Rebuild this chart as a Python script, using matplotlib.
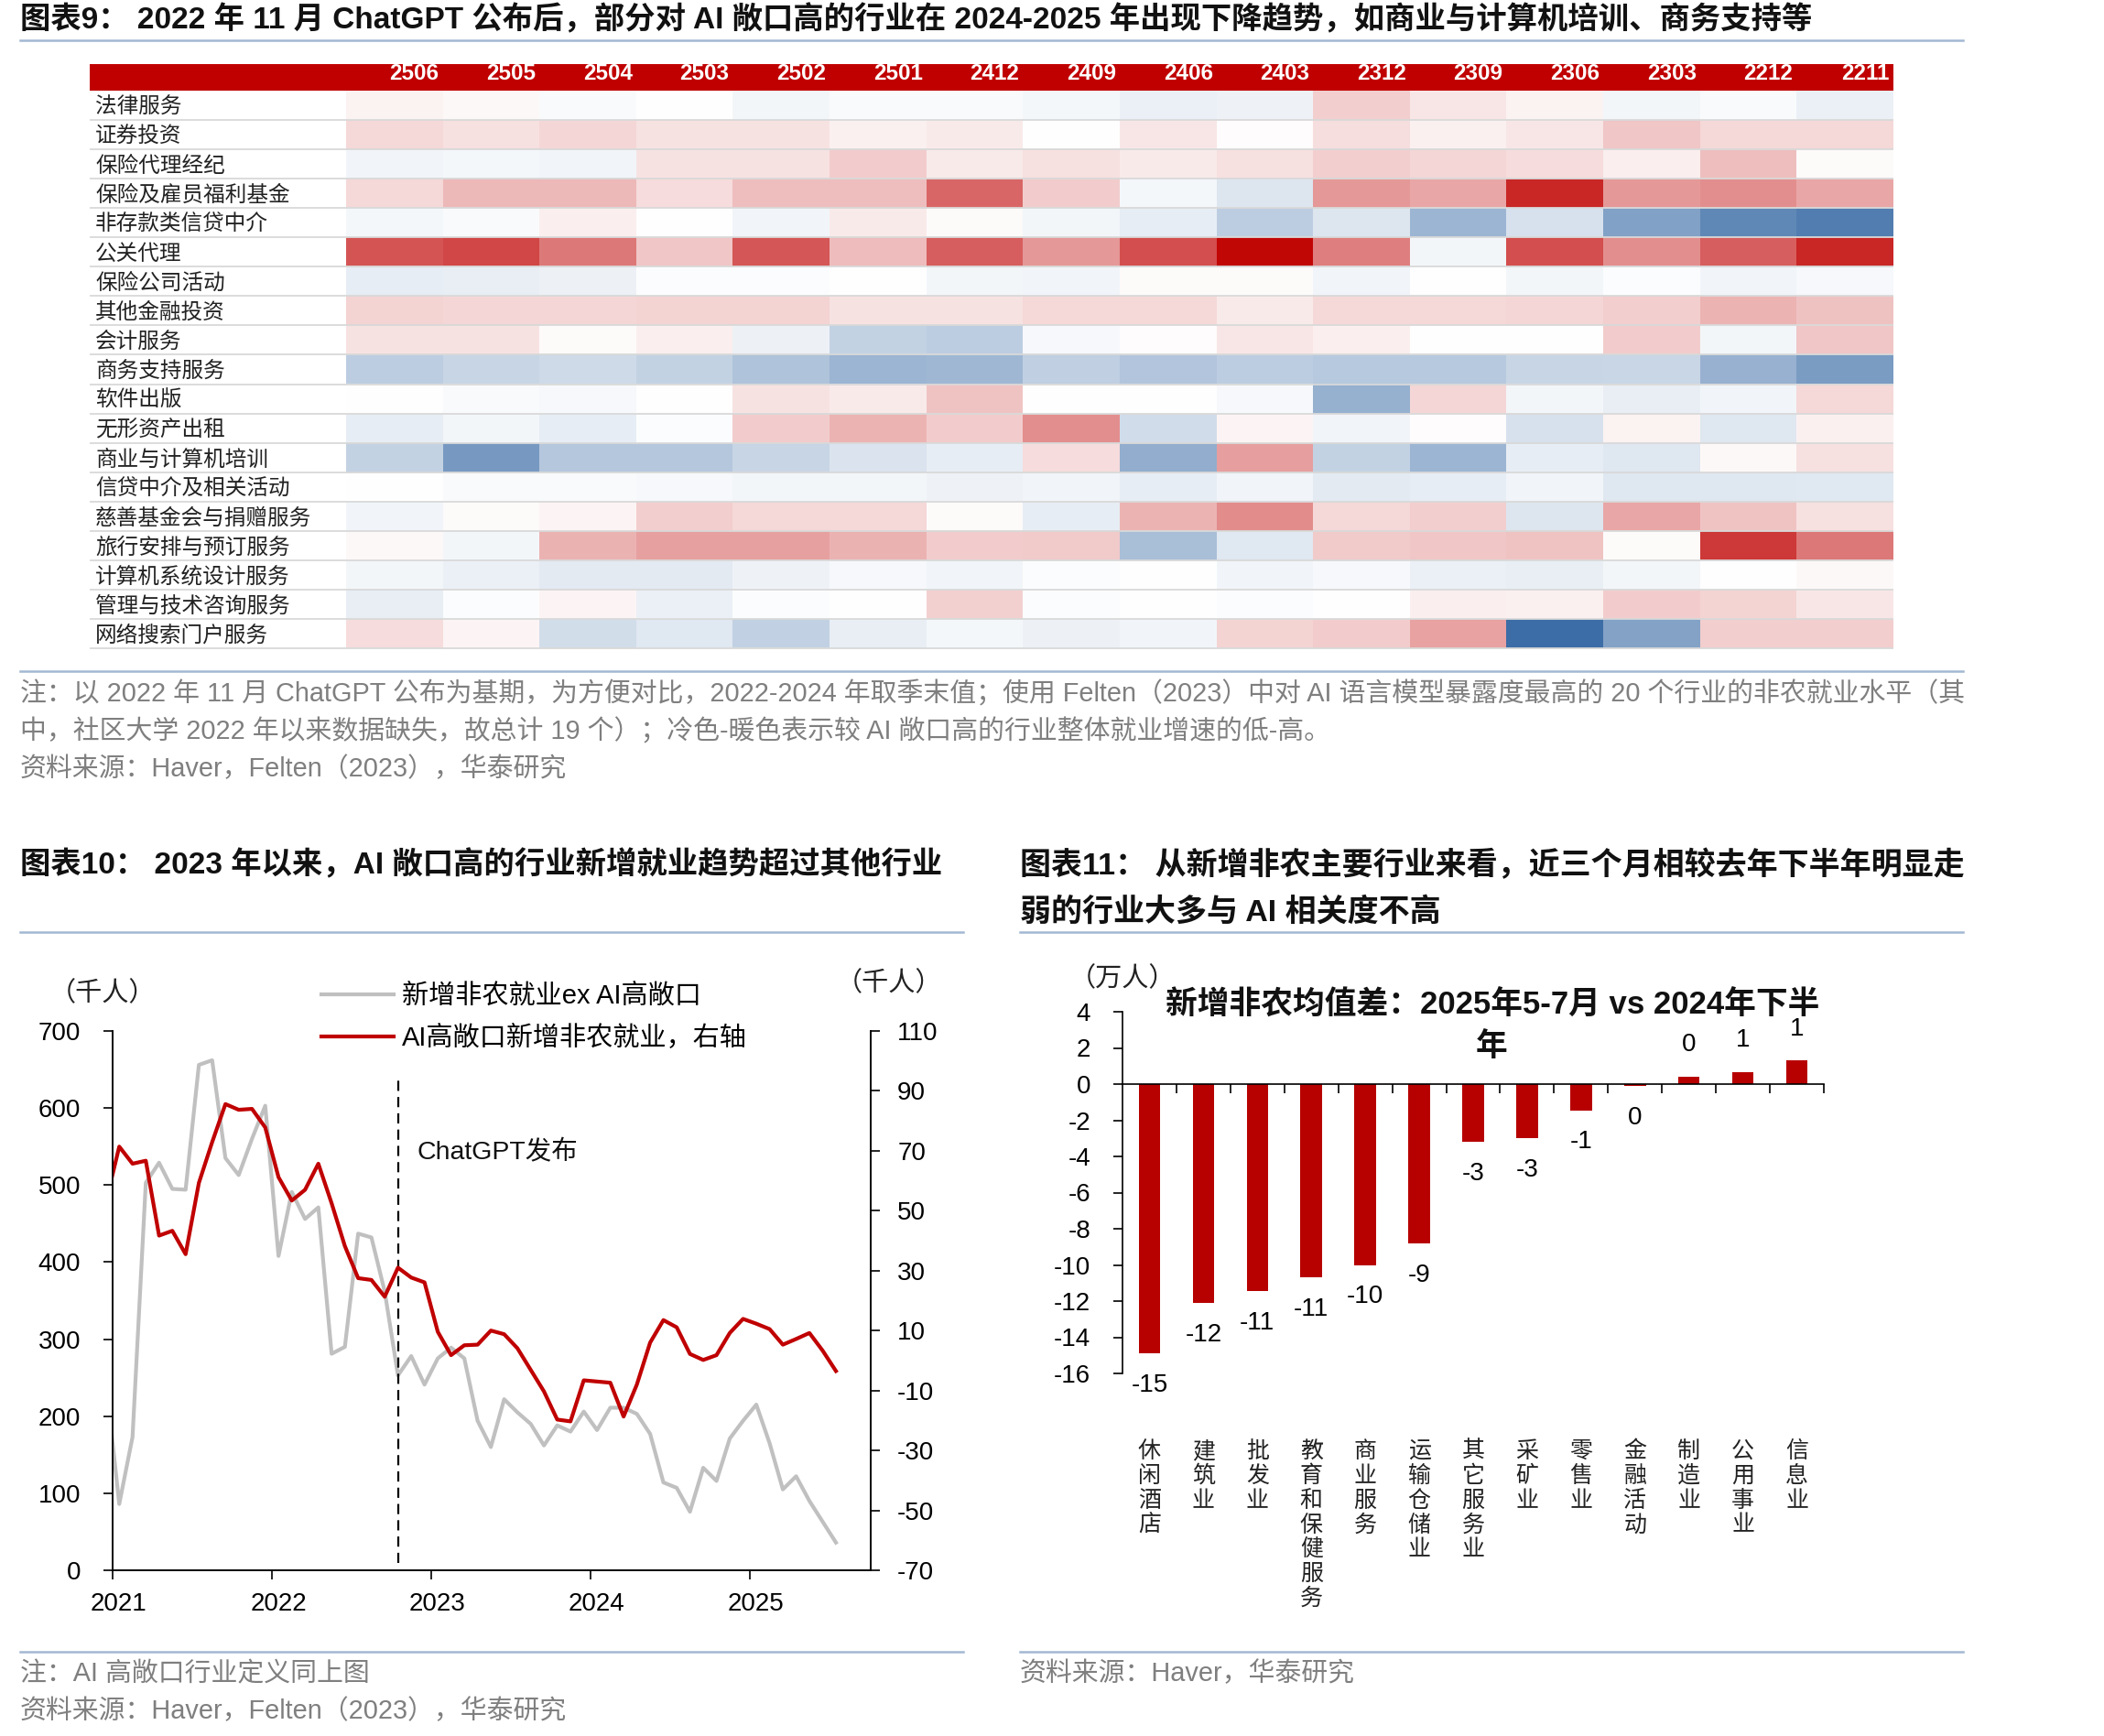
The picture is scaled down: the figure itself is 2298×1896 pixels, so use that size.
import numpy as np
import pandas as pd
import matplotlib.pyplot as plt
from matplotlib.colors import LinearSegmentedColormap
from matplotlib.lines import Line2D
from matplotlib.transforms import ScaledTranslation

plt.rcParams['font.family'] = ['Liberation Sans', 'Noto Sans CJK SC']
plt.rcParams['axes.unicode_minus'] = False

# ---------------- data ----------------
hm_cols = ['2506', '2505', '2504', '2503', '2502', '2501', '2412', '2409',
           '2406', '2403', '2312', '2309', '2306', '2303', '2212', '2211']
hm_rows = ['法律服务', '证券投资', '保险代理经纪', '保险及雇员福利基金', '非存款类信贷中介',
           '公关代理', '保险公司活动', '其他金融投资', '会计服务', '商务支持服务',
           '软件出版', '无形资产出租', '商业与计算机培训', '信贷中介及相关活动',
           '慈善基金会与捐赠服务', '旅行安排与预订服务', '计算机系统设计服务',
           '管理与技术咨询服务', '网络搜索门户服务']
# cold (negative) -> warm (positive), relative scale
hm_vals = np.array([
    [0.05, 0.03, -0.03, 0.00, -0.06, -0.03, -0.03, -0.05, -0.10, -0.08, 0.19, 0.10, 0.05, -0.06, -0.03, -0.10],
    [0.15, 0.12, 0.16, 0.11, 0.11, 0.06, 0.08, 0.00, 0.10, 0.01, 0.13, 0.06, 0.10, 0.22, 0.15, 0.15],
    [-0.07, -0.05, -0.07, 0.11, 0.11, 0.20, 0.08, 0.12, 0.08, 0.12, 0.19, 0.16, 0.14, 0.07, 0.25, 0.02],
    [0.15, 0.28, 0.28, 0.14, 0.25, 0.25, 0.60, 0.20, -0.05, -0.17, 0.40, 0.35, 0.85, 0.40, 0.44, 0.35],
    [-0.05, -0.03, 0.07, 0.00, -0.07, 0.08, 0.02, -0.06, -0.12, -0.33, -0.17, -0.50, -0.20, -0.63, -0.80, -0.87],
    [0.67, 0.72, 0.53, 0.22, 0.66, 0.26, 0.63, 0.40, 0.69, 0.97, 0.50, -0.06, 0.69, 0.44, 0.63, 0.85],
    [-0.12, -0.11, -0.09, -0.02, -0.02, 0.00, -0.06, -0.07, 0.02, 0.02, -0.07, 0.00, -0.06, -0.02, -0.07, -0.04],
    [0.17, 0.16, 0.16, 0.17, 0.17, 0.11, 0.11, 0.15, 0.15, 0.08, 0.15, 0.15, 0.16, 0.19, 0.29, 0.24],
    [0.11, 0.11, 0.02, 0.07, -0.09, -0.30, -0.33, -0.04, 0.01, 0.10, 0.07, 0.00, 0.00, 0.20, -0.06, 0.22],
    [-0.33, -0.28, -0.25, -0.30, -0.40, -0.50, -0.48, -0.32, -0.39, -0.33, -0.36, -0.36, -0.28, -0.27, -0.52, -0.67],
    [0.00, -0.03, -0.04, 0.00, 0.11, 0.08, 0.23, 0.00, 0.00, -0.04, -0.53, 0.16, -0.06, -0.11, -0.07, 0.15],
    [-0.12, -0.06, -0.12, -0.02, 0.20, 0.29, 0.20, 0.44, -0.23, 0.04, -0.07, 0.01, -0.20, 0.05, -0.16, 0.06],
    [-0.30, -0.68, -0.37, -0.37, -0.28, -0.18, -0.12, 0.14, -0.55, 0.38, -0.30, -0.50, -0.12, -0.16, 0.03, 0.12],
    [0.00, -0.03, -0.03, -0.04, -0.06, -0.06, -0.08, -0.07, -0.12, -0.07, -0.14, -0.12, -0.07, -0.16, -0.16, -0.15],
    [-0.07, 0.02, 0.04, 0.19, 0.15, 0.15, 0.02, -0.12, 0.29, 0.45, 0.15, 0.19, -0.17, 0.35, 0.23, 0.12],
    [0.03, -0.06, 0.30, 0.37, 0.37, 0.30, 0.20, 0.21, -0.43, -0.15, 0.21, 0.22, 0.23, 0.02, 0.78, 0.53],
    [-0.06, -0.10, -0.14, -0.14, -0.08, -0.04, -0.07, -0.02, 0.00, -0.07, -0.04, -0.10, -0.11, -0.06, 0.00, 0.03],
    [-0.11, -0.02, 0.04, -0.10, -0.02, 0.00, 0.18, -0.02, 0.00, -0.02, 0.00, 0.07, 0.06, 0.20, 0.17, 0.10],
    [0.14, 0.04, -0.22, -0.15, -0.31, -0.11, -0.05, -0.09, -0.07, 0.17, 0.20, 0.36, -0.98, -0.62, 0.19, 0.19],
])

# chart 10: monthly, Dec 2020 - Jul 2025 (thousand persons)
months = pd.date_range('2020-12-01', '2025-07-01', freq='MS')
nfp_ex_ai = [245, 86, 173, 503, 529, 495, 494, 656, 662, 535, 513, 560, 603, 408, 491, 456,
             471, 281, 290, 437, 432, 362, 253, 278, 241, 275, 289, 275, 194, 160, 222, 205,
             190, 162, 188, 180, 206, 182, 211, 211, 203, 177, 114, 107, 76, 133, 116, 171,
             194, 215, 165, 105, 122, 90, 63, 36]
nfp_ai = [53, 71.4, 65.7, 66.7, 41.7, 43.3, 35.5, 59.3, 72.9, 85.6, 83.7, 84, 77.8, 61.2,
          53.4, 57, 65.7, 52.5, 38.2, 27.5, 26.9, 21.3, 31, 27.7, 26.1, 9.6, 1.8, 5.1, 5.3,
          10, 8.8, 4.1, -3.1, -10.3, -19.7, -20.3, -6.6, -7, -7.4, -18.7, -8, 6, 13.5, 11.1,
          2.2, 0.2, 1.8, 9.2, 13.9, 12.3, 10.5, 5.3, 7.2, 9.2, 3.3, -3.5]
chatgpt_month = pd.Timestamp('2022-10-01')
years = [2021, 2022, 2023, 2024, 2025]

# chart 11 (10k persons)
sectors = ['休闲酒店', '建筑业', '批发业', '教育和保健服务', '商业服务', '运输仓储业',
           '其它服务业', '采矿业', '零售业', '金融活动', '制造业', '公用事业', '信息业']
sector_diff = [-14.9, -12.1, -11.45, -10.7, -10.0, -8.8, -3.2, -3.0, -1.45, -0.1, 0.4, 0.65, 1.3]

# ---------------- helpers ----------------
W, H = 2298, 1896
RED = '#C00000'
BAR = '#B70000'
GRAYTXT = '#7F7F7F'
SEPC = '#A3B8D2'
TXT = '#111111'
fig = plt.figure(figsize=(W / 100, H / 100), dpi=100)


def box(x0, y0, x1, y1):
    return [x0 / W, 1 - y1 / H, (x1 - x0) / W, (y1 - y0) / H]


def ftxt(x, y, s, **kw):
    kw.setdefault('va', 'center')
    return fig.text(x / W, 1 - y / H, s, **kw)


def sep(x0, x1, y):
    fig.add_artist(Line2D([x0 / W, x1 / W], [1 - y / H] * 2, color=SEPC, lw=1.8))


# ---------------- chart 9: heatmap ----------------
ftxt(22, 22, '图表9： 2022 年 11 月 ChatGPT 公布后，部分对 AI 敞口高的行业在 2024-2025 年出现下降趋势，如商业与计算机培训、商务支持等',
     fontsize=24, fontweight='bold', color=TXT)
sep(22, 2144, 44)

axh = fig.add_axes(box(98, 70, 2068, 99))
axh.set_facecolor(RED)
axh.set_xticks([])
axh.set_yticks([])
for s in axh.spines.values():
    s.set_visible(False)

cmap = LinearSegmentedColormap.from_list('bwr_c', ['#3A6BA5', '#FFFFFF', '#C00000'])
ax = fig.add_axes(box(378, 99, 2068, 708))
ax.imshow(hm_vals, cmap=cmap, vmin=-1, vmax=1, aspect='auto', interpolation='nearest')
ax.set_xticks(range(len(hm_cols)), hm_cols)
ax.xaxis.tick_top()
ax.tick_params(axis='x', length=0, pad=5, labelsize=17.5, labelcolor='white')
col_shift = ScaledTranslation((1690 / 16 / 2 - 4) / 100, 0, fig.dpi_scale_trans)
for lab in ax.get_xticklabels():
    lab.set_fontweight('bold')
    lab.set_ha('right')
    lab.set_transform(lab.get_transform() + col_shift)
ax.set_yticks(range(len(hm_rows)), hm_rows)
ax.tick_params(axis='y', length=0, pad=(378 - 104) / 1.389, labelsize=17, labelcolor='#222222')
for lab in ax.get_yticklabels():
    lab.set_ha('left')
for s in ax.spines.values():
    s.set_visible(False)
lab_w = 280 / (1690 / 16)
ax.hlines(np.arange(0.5, len(hm_rows)), -0.5 - lab_w, len(hm_cols) - 0.5,
          colors='#D9D9D9', lw=1.3, clip_on=False)
ax.set_xlim(-0.5, len(hm_cols) - 0.5)
ax.set_ylim(len(hm_rows) - 0.5, -0.5)

sep(22, 2144, 733)
ftxt(22, 758, '注：以 2022 年 11 月 ChatGPT 公布为基期，为方便对比，2022-2024 年取季末值；使用 Felten（2023）中对 AI 语言模型暴露度最高的 20 个行业的非农就业水平（其',
     fontsize=20.8, color=GRAYTXT)
ftxt(22, 799, '中，社区大学 2022 年以来数据缺失，故总计 19 个）；冷色-暖色表示较 AI 敞口高的行业整体就业增速的低-高。',
     fontsize=20.8, color=GRAYTXT)
ftxt(22, 840, '资料来源：Haver，Felten（2023），华泰研究', fontsize=20.8, color=GRAYTXT)

# ---------------- chart 10 ----------------
ftxt(22, 945, '图表10： 2023 年以来，AI 敞口高的行业新增就业趋势超过其他行业',
     fontsize=24, fontweight='bold', color=TXT)
sep(22, 1052, 1018)

xm = months.year + (months.month - 0.5) / 12
xc = chatgpt_month.year + (chatgpt_month.month - 0.5) / 12
ax1 = fig.add_axes(box(123, 1126, 951, 1715))
l1, = ax1.plot(xm, nfp_ex_ai, color='#C0C0C0', lw=3)
ax1.set_ylim(0, 700)
ax1.set_yticks(range(0, 701, 100))
ax1.set_xlim(2021, 2025.76)
ax1.set_xticks(years, [str(y) for y in years])
ax1.vlines(xc, 10, 640, colors='black', linestyles=(0, (5, 3)), lw=1.6)
ax1.text(xc + 0.12, 542, 'ChatGPT发布', fontsize=20.5, va='center', color=TXT)
ax2 = ax1.twinx()
l2, = ax2.plot(xm, nfp_ai, color=RED, lw=3)
ax2.set_ylim(-70, 110)
ax2.set_yticks(range(-70, 111, 20))
for a in (ax1, ax2):
    a.spines['top'].set_visible(False)
    a.tick_params(labelsize=20, direction='out', length=7, width=1.2)
    for s in a.spines.values():
        s.set_linewidth(1.2)
ax1.tick_params(axis='y', pad=18)
ax2.tick_params(axis='y', pad=14)
ax1.tick_params(axis='x', pad=10)
shift = ScaledTranslation(7 / 100, 0, fig.dpi_scale_trans)
for lab in ax1.get_xticklabels():
    lab.set_transform(lab.get_transform() + shift)
fig.legend([l1, l2], ['新增非农就业ex AI高敞口', 'AI高敞口新增非农就业，右轴'],
           loc='center left', bbox_to_anchor=(351 / W, 1 - 1111 / H), frameon=False,
           fontsize=21, handlelength=2.7, handletextpad=0.3, labelspacing=0.6,
           borderpad=0, borderaxespad=0)
ftxt(54, 1085, '（千人）', fontsize=21, color='#222222')
ftxt(913, 1074, '（千人）', fontsize=21, color='#222222')

sep(22, 1052, 1804)
ftxt(22, 1828, '注：AI 高敞口行业定义同上图', fontsize=20.8, color=GRAYTXT)
ftxt(22, 1869, '资料来源：Haver，Felten（2023），华泰研究', fontsize=20.8, color=GRAYTXT)

# ---------------- chart 11 ----------------
ftxt(1114, 945, '图表11： 从新增非农主要行业来看，近三个月相较去年下半年明显走',
     fontsize=24.5, fontweight='bold', color=TXT)
ftxt(1114, 996, '弱的行业大多与 AI 相关度不高', fontsize=24.5, fontweight='bold', color=TXT)
sep(1114, 2144, 1018)

ax3 = fig.add_axes(box(1226, 1105, 1992, 1500))
xs = np.arange(len(sectors))
ax3.bar(xs, sector_diff, width=0.4, color=BAR)
ax3.set_xlim(-0.5, len(sectors) - 0.5)
ax3.set_ylim(-16, 4)
ax3.set_yticks(range(-16, 5, 2))
ax3.spines['bottom'].set_position(('data', 0))
ax3.spines['top'].set_visible(False)
ax3.spines['right'].set_visible(False)
ax3.set_xticks(np.arange(0.5, len(sectors)), [''] * len(sectors))
ax3.tick_params(labelsize=20, direction='out', length=7, width=1.2)
ax3.tick_params(axis='y', pad=18)
for s in ax3.spines.values():
    s.set_linewidth(1.2)
for i, v in enumerate(sector_diff):
    ax3.annotate(str(int(round(v))), (i, v), xytext=(0, 25 if v > 0 else -25),
                 textcoords='offset points', ha='center', va='center', fontsize=20)
    ax3.text(i, -0.185, '\n'.join(sectors[i]), transform=ax3.get_xaxis_transform(),
             ha='center', va='top', fontsize=18, linespacing=1.15, color='#222222')
ftxt(1630, 1098, '新增非农均值差：2025年5-7月 vs 2024年下半', ha='center',
     fontsize=25, fontweight='bold', color=TXT)
ftxt(1629, 1143, '年', ha='center', fontsize=25, fontweight='bold', color=TXT)
ftxt(1168, 1069, '（万人）', fontsize=21, color='#222222')

sep(1114, 2144, 1804)
ftxt(1114, 1828, '资料来源：Haver，华泰研究', fontsize=20.8, color=GRAYTXT)

fig.savefig('out.png', dpi=100, facecolor='white')
